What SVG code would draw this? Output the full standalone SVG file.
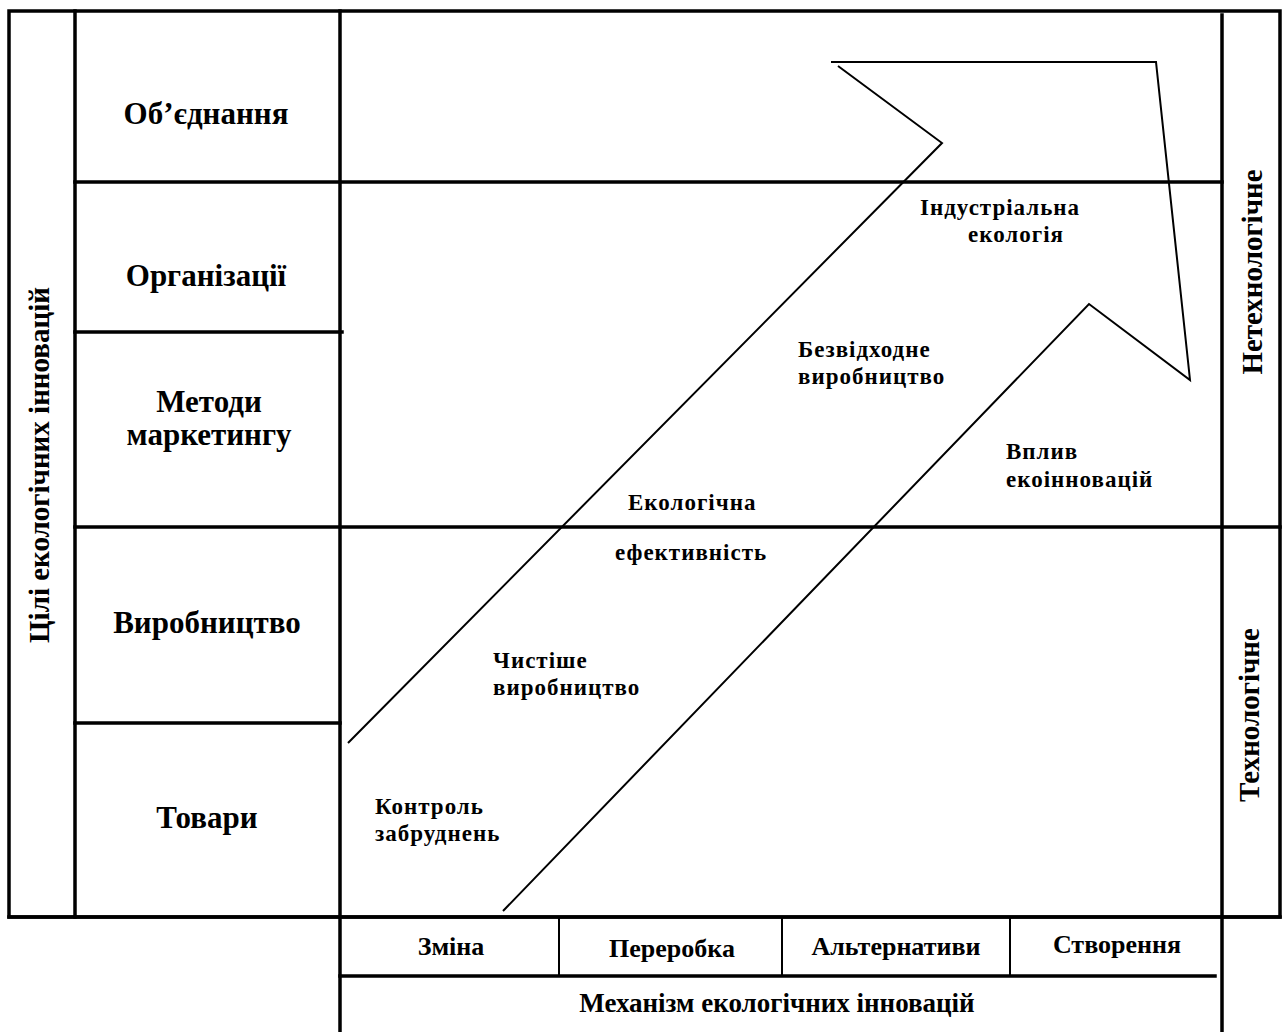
<svg xmlns="http://www.w3.org/2000/svg" width="1282" height="1032" viewBox="0 0 1282 1032">
<style>
text{font-family:"Liberation Serif","Times New Roman",serif;font-weight:bold;fill:#000}
.big{font-size:31px;text-anchor:middle}
.side{font-size:29px;text-anchor:middle}
.bot{font-size:26px;text-anchor:middle}
.mech{font-size:27px;text-anchor:middle}
.in{font-size:23px;letter-spacing:1px}
.thick{stroke:#000;stroke-width:3.5;fill:none;stroke-linecap:square}
.thin{stroke:#000;stroke-width:2;fill:none}
.arrow{stroke:#000;stroke-width:2;fill:none;stroke-linejoin:miter}
</style>
<rect width="1282" height="1032" fill="#fff"/>
<g id="grid">
<path class="thick" d="M9 11H1280V917H9Z"/>
<path class="thick" d="M75 11V917M340 11V1032M1222 15V1032"/>
<path class="thick" d="M75 182H1222M75 332H342M75 527H1280M75 723H340M9 917H1280M340 976H1215"/>
<path class="thin" d="M559 917V976M782 917V976M1010 917V976"/>
</g>
<g id="connectors">
<polyline class="arrow" points="348,743 942,143 838,66"/>
<polyline class="arrow" points="831,62 1156,62 1190,380 1089,304 503,911"/>
</g>
<g id="node-obiednannia"><text class="big" x="206" y="124">Об’єднання</text></g>
<g id="node-organizatsii"><text class="big" x="206" y="286">Організації</text></g>
<g id="node-metody"><text class="big" x="209" y="412">Методи</text><text class="big" x="209" y="445">маркетингу</text></g>
<g id="node-vyrobnytstvo"><text class="big" x="207" y="633">Виробництво</text></g>
<g id="node-tovary"><text class="big" x="207" y="828">Товари</text></g>
<g id="node-tsili"><text class="side" transform="translate(49,465) rotate(-90)">Цілі екологічних інновацій</text></g>
<g id="node-netekh"><text class="side" transform="translate(1262,272) rotate(-90)">Нетехнологічне</text></g>
<g id="node-tekh"><text class="side" transform="translate(1259,715) rotate(-90)">Технологічне</text></g>
<g id="node-industrial"><text class="in" x="920" y="215">Індустріальна</text><text class="in" x="968" y="242">екологія</text></g>
<g id="node-bezvidkhodne"><text class="in" x="798" y="357">Безвідходне</text><text class="in" x="798" y="384">виробництво</text></g>
<g id="node-vplyv"><text class="in" x="1006" y="459">Вплив</text><text class="in" x="1006" y="487">екоінновацій</text></g>
<g id="node-ekolohichna"><text class="in" x="628" y="510">Екологічна</text><text class="in" x="615" y="560">ефективність</text></g>
<g id="node-chystishe"><text class="in" x="493" y="668">Чистіше</text><text class="in" x="493" y="695">виробництво</text></g>
<g id="node-kontrol"><text class="in" x="375" y="814">Контроль</text><text class="in" x="375" y="841">забруднень</text></g>
<g id="node-zmina"><text class="bot" x="451" y="955">Зміна</text></g>
<g id="node-pererobka"><text class="bot" x="672" y="957">Переробка</text></g>
<g id="node-alternatyvy"><text class="bot" x="896" y="955">Альтернативи</text></g>
<g id="node-stvorennia"><text class="bot" x="1117" y="953">Створення</text></g>
<g id="node-mekhanizm"><text class="mech" x="777" y="1012">Механізм екологічних інновацій</text></g>
</svg>
